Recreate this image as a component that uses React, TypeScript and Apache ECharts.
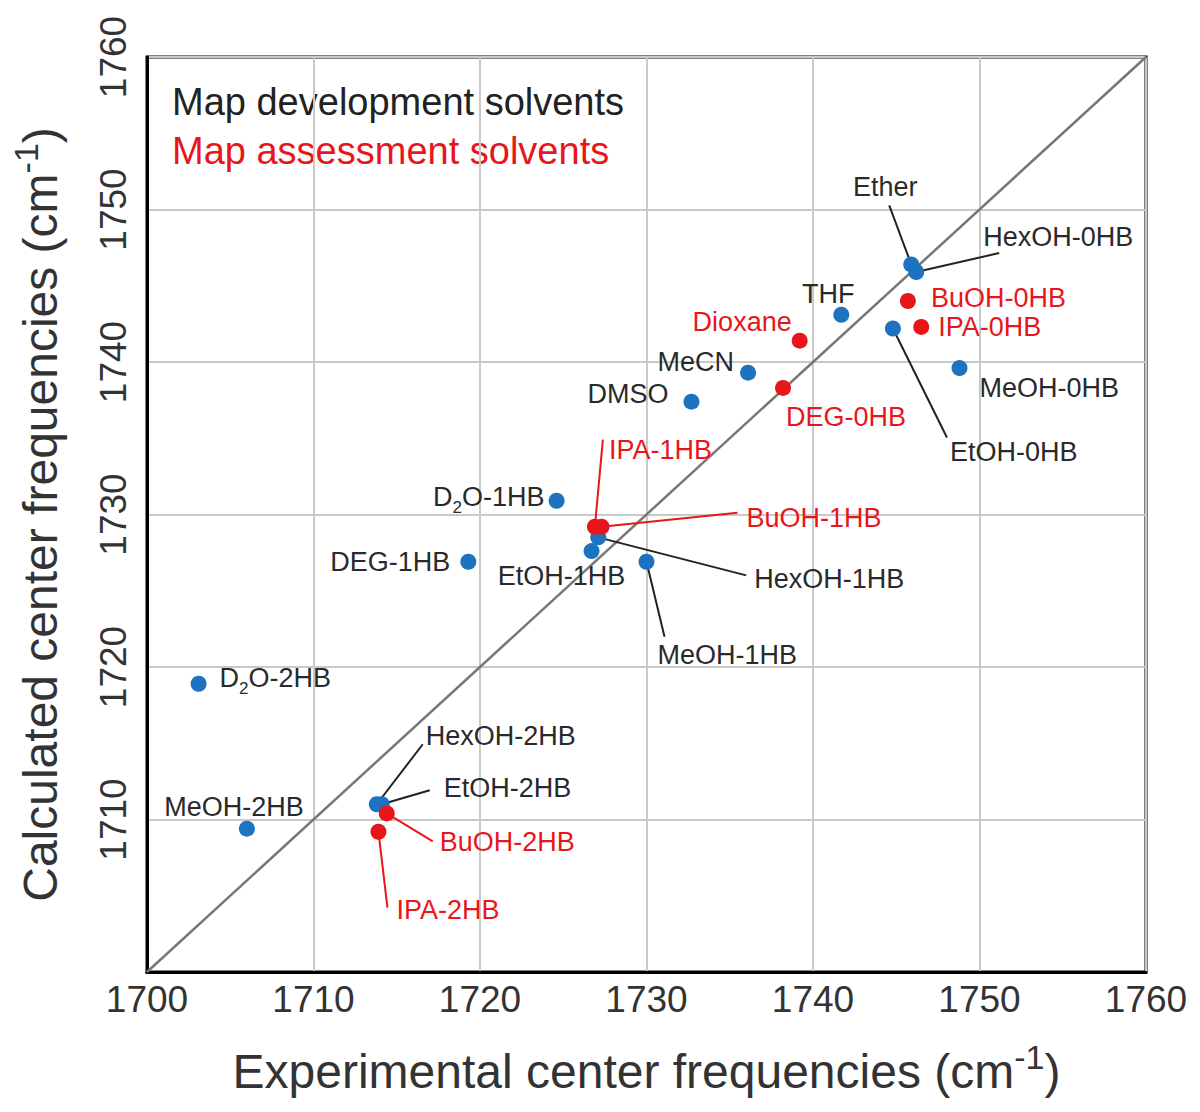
import React, { useEffect, useRef } from "react";
import * as echarts from "echarts";

// ---- data ----
const DEV_NAMES = [
  "Ether", "HexOH-0HB", "THF", "EtOH-0HB", "MeOH-0HB", "MeCN", "DMSO",
  "D2O-1HB", "HexOH-1HB", "EtOH-1HB", "MeOH-1HB", "DEG-1HB",
  "D2O-2HB", "MeOH-2HB", "HexOH-2HB", "EtOH-2HB",
];
const DEV_X = [
  1745.9, 1746.2, 1741.7, 1744.8, 1748.8, 1736.1, 1732.7,
  1724.6, 1727.1, 1726.7, 1730.0, 1719.3,
  1703.1, 1706.0, 1713.8, 1714.1,
];
const DEV_Y = [
  1746.4, 1745.9, 1743.1, 1742.2, 1739.6, 1739.3, 1737.4,
  1730.9, 1728.5, 1727.6, 1726.9, 1726.9,
  1718.9, 1709.4, 1711.0, 1711.0,
];

const ASSESS_NAMES = [
  "Dioxane", "BuOH-0HB", "IPA-0HB", "DEG-0HB", "IPA-1HB", "BuOH-1HB",
  "BuOH-2HB", "IPA-2HB",
];
const ASSESS_X = [1739.2, 1745.7, 1746.5, 1738.2, 1726.9, 1727.3, 1714.4, 1713.9];
const ASSESS_Y = [1741.4, 1744.0, 1742.3, 1738.3, 1729.2, 1729.2, 1710.4, 1709.2];

const AXIS_MIN = 1700;
const AXIS_MAX = 1760;
const AXIS_STEP = 10;
const DIAGONAL = [1700, 1760];

const LEGEND_TEXTS = ["Map development solvents", "Map assessment solvents"];
const X_TITLE = "Experimental center frequencies (cm{sup|-1})";
const Y_TITLE = "Calculated center frequencies (cm{sup|-1})";

// ---- styles / layout (pixel offsets of labels relative to their points) ----
const BLUE = "#1e73c0";
const RED = "#e8161b";
const LABEL_BLACK = "#2a2a2a";
const FONT = "'Liberation Sans', Arial, Helvetica, sans-serif";

type LL = { dx: number; dy: number; align: "left" | "center" | "right"; lx?: number; ly?: number };
const LABEL_LAYOUT: Record<string, LL> = {
  "Ether": { dx: -26, dy: -77, align: "center", lx: -22, ly: -59 },
  "HexOH-0HB": { dx: 67, dy: -35, align: "left", lx: 83, ly: -19 },
  "THF": { dx: -13, dy: -21, align: "center" },
  "EtOH-0HB": { dx: 57, dy: 124, align: "left", lx: 54, ly: 109 },
  "MeOH-0HB": { dx: 20, dy: 20, align: "left" },
  "MeCN": { dx: -14, dy: -11, align: "right" },
  "DMSO": { dx: -23, dy: -8, align: "right" },
  "D2O-1HB": { dx: -12, dy: -4, align: "right" },
  "HexOH-1HB": { dx: 156, dy: 42, align: "left", lx: 148, ly: 38 },
  "EtOH-1HB": { dx: -30, dy: 25, align: "center" },
  "MeOH-1HB": { dx: 11, dy: 93, align: "left", lx: 18, ly: 75 },
  "DEG-1HB": { dx: -18, dy: 0, align: "right" },
  "D2O-2HB": { dx: 21, dy: -6, align: "left" },
  "MeOH-2HB": { dx: -13, dy: -22, align: "center" },
  "HexOH-2HB": { dx: 49, dy: -68, align: "left", lx: 46, ly: -60 },
  "EtOH-2HB": { dx: 62, dy: -16, align: "left", lx: 48, ly: -14 },
  "Dioxane": { dx: -8, dy: -19, align: "right" },
  "BuOH-0HB": { dx: 23, dy: -3, align: "left" },
  "IPA-0HB": { dx: 17, dy: 0, align: "left" },
  "DEG-0HB": { dx: 3, dy: 29, align: "left" },
  "IPA-1HB": { dx: 14, dy: -77, align: "left", lx: 8, ly: -87 },
  "BuOH-1HB": { dx: 145, dy: -9, align: "left", lx: 136, ly: -14 },
  "BuOH-2HB": { dx: 53, dy: 29, align: "left", lx: 46, ly: 28 },
  "IPA-2HB": { dx: 18, dy: 78, align: "left", lx: 9, ly: 76 },
};

const ALL_NAMES = [...DEV_NAMES, ...ASSESS_NAMES];
const ALL_COLORS = [...DEV_NAMES.map(() => LABEL_BLACK), ...ASSESS_NAMES.map(() => RED)];
const ALL_DATA = [
  ...DEV_X.map((x, i) => [x, DEV_Y[i]]),
  ...ASSESS_X.map((x, i) => [x, ASSESS_Y[i]]),
];

function labelText(name: string) {
  if (name.startsWith("D2O")) return "D{sub|2}" + name.slice(2);
  return name;
}

export default function App() {
  const ref = useRef<HTMLDivElement>(null);
  useEffect(() => {
    if (!ref.current) return;
    const chart = echarts.init(ref.current, undefined, { renderer: "svg" });
    const titleStyle = {
      fontFamily: FONT,
      fontSize: 48,
      color: "#333",
      rich: { sup: { fontSize: 34, verticalAlign: "top", lineHeight: 62, fontFamily: FONT, color: "#333" } },
    };
    const axisCommon = {
      type: "value" as const,
      min: AXIS_MIN,
      max: AXIS_MAX,
      interval: AXIS_STEP,
      nameLocation: "middle" as const,
      axisLine: { show: true, lineStyle: { color: "#000", width: 3 } },
      axisTick: { show: false },
      splitLine: { show: true, lineStyle: { color: "#c9c9c9", width: 2 } },
    };
    const option: any = {
      animation: false,
      backgroundColor: "#fff",
      grid: {
        left: 147,
        right: 54,
        top: 57,
        bottom: 140,
        show: true,
        borderColor: "#000",
        borderWidth: 3,
        backgroundColor: "transparent",
      },
      xAxis: {
        ...axisCommon,
        name: X_TITLE,
        nameGap: 68,
        nameTextStyle: titleStyle,
        axisLabel: {
          fontFamily: FONT, fontSize: 37, color: "#333", margin: 9,
          formatter: (v: number) => String(v),
        },
      },
      yAxis: {
        ...axisCommon,
        name: Y_TITLE,
        nameGap: 76,
        nameTextStyle: titleStyle,
        axisLabel: {
          fontFamily: FONT, fontSize: 37, color: "#333", margin: 15, rotate: 90,
          showMinLabel: false,
          formatter: (v: number) => String(v),
        },
      },
      graphic: [
        {
          type: "text",
          left: 172,
          top: 83,
          style: { text: LEGEND_TEXTS[0], fill: "#222", font: `38px ${FONT}` },
        },
        {
          type: "text",
          left: 172,
          top: 132,
          style: { text: LEGEND_TEXTS[1], fill: RED, font: `38px ${FONT}` },
        },
      ],
      series: [
        {
          type: "line",
          data: [
            [DIAGONAL[0], DIAGONAL[0]],
            [DIAGONAL[1], DIAGONAL[1]],
          ],
          symbol: "none",
          lineStyle: { color: "#777", width: 2.5 },
          silent: true,
          z: 1,
        },
        {
          type: "custom",
          coordinateSystem: "cartesian2d",
          data: ALL_DATA,
          encode: { x: 0, y: 1 },
          clip: false,
          z: 2,
          silent: true,
          renderItem: (params: any, api: any) => {
            const i = params.dataIndex;
            const name = ALL_NAMES[i];
            const color = ALL_COLORS[i];
            const lay = LABEL_LAYOUT[name];
            const pt = api.coord([api.value(0), api.value(1)]);
            const children: any[] = [];
            if (lay.lx !== undefined && lay.ly !== undefined) {
              children.push({
                type: "line",
                shape: { x1: pt[0], y1: pt[1], x2: pt[0] + lay.lx, y2: pt[1] + lay.ly },
                style: { stroke: color === RED ? RED : "#222", lineWidth: 2 },
              });
            }
            children.push({
              type: "text",
              x: pt[0] + lay.dx,
              y: pt[1] + lay.dy,
              style: {
                text: labelText(name),
                fill: color,
                fontSize: 27,
                fontFamily: FONT,
                align: lay.align,
                verticalAlign: "middle",
                rich: {
                  sub: { fontSize: 17, fontFamily: FONT, fill: color, verticalAlign: "bottom", lineHeight: 38 },
                },
              },
            });
            return { type: "group", children };
          },
        },
        {
          type: "scatter",
          name: "development",
          data: DEV_X.map((x, i) => [x, DEV_Y[i]]),
          symbolSize: 16,
          itemStyle: { color: BLUE, opacity: 1 },
          z: 3,
        },
        {
          type: "scatter",
          name: "assessment",
          data: ASSESS_X.map((x, i) => [x, ASSESS_Y[i]]),
          symbolSize: 16,
          itemStyle: { color: RED, opacity: 1 },
          z: 4,
        },
      ],
    };
    chart.setOption(option);
    return () => chart.dispose();
  }, []);
  return (
    <div
      ref={ref}
      style={{ position: "fixed", left: 0, top: 0, width: 1200, height: 1112, background: "#fff" }}
    />
  );
}
